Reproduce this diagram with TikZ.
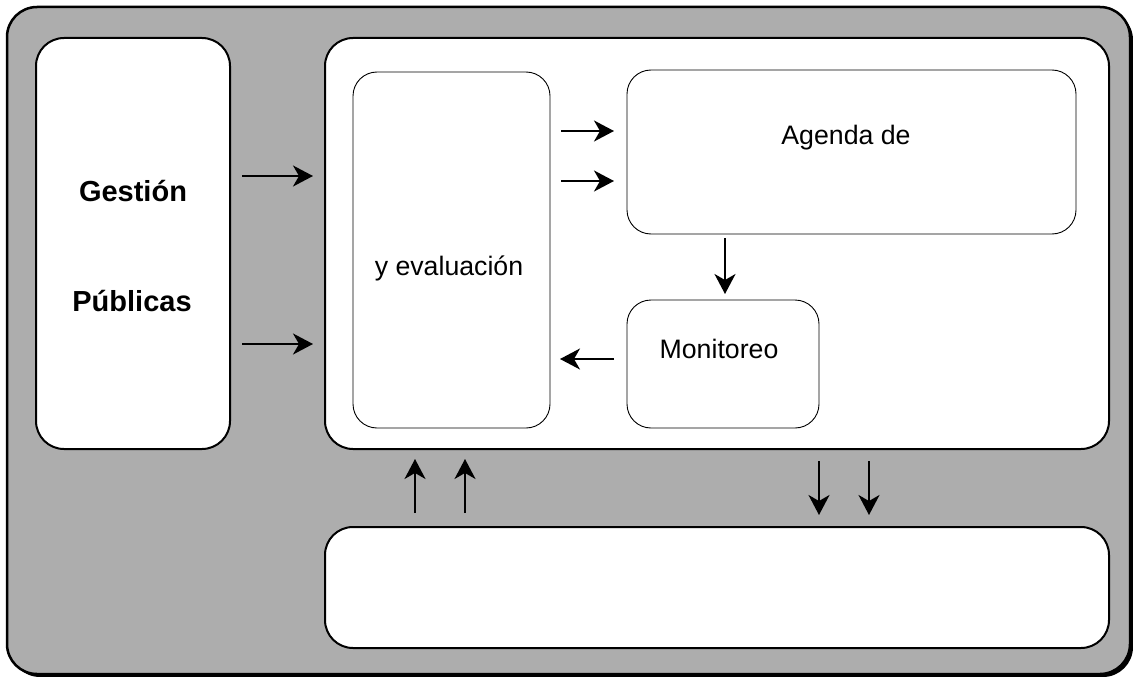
\documentclass[tikz,border=0pt]{standalone}
\usepackage{fontspec}
\setmainfont{Liberation Sans}
\usetikzlibrary{arrows.meta}
\begin{document}
\begin{tikzpicture}[x=1pt,y=-1pt,
  frame/.style={draw=black,line width=2pt,fill=white,rounded corners=28pt},
  inner/.style={draw=black,line width=0.9pt,fill=white,rounded corners=24pt},
  arr/.style={line width=2pt,-{Stealth[length=20pt,width=21pt,inset=6pt]}},
  lbl/.style={font=\fontsize{26.7}{30}\selectfont},
  blbl/.style={font=\bfseries\fontsize{29}{32}\selectfont}]
\useasboundingbox (0,0) rectangle (1133,677);
% outer panel with shadow
\fill[black,rounded corners=30pt] (10,10) rectangle (1133,677);
\draw[line width=2.5pt,fill={rgb,255:red,173;green,173;blue,173},rounded corners=30pt] (7,7) rectangle (1130,674);
% boxes
\draw[frame] (36,38) rectangle (230,449);
\node[blbl] (g) at (133,191) {Gestión};
\node[blbl] (p) at (132,301) {Públicas};
\draw[frame] (325,38) rectangle (1109,449);
\draw[inner] (353,72) rectangle (550,428);
\node[lbl] (ev) at (449,268) {y evaluación};
\draw[inner] (627,70) rectangle (1076,234);
\node[lbl] (ag) at (846,138) {Agenda de};
\draw[inner] (627,300) rectangle (819,428);
\node[lbl] (mo) at (719,349) {Monitoreo};
\draw[frame] (325,527) rectangle (1109,648);
% arrows
\coordinate (a1s) at (242,176); \coordinate (a1e) at (313,176);
\coordinate (a2s) at (242,344); \coordinate (a2e) at (313,344);
\draw[arr] (a1s) -- (a1e);
\draw[arr] (a2s) -- (a2e);
\coordinate (b1s) at (561,131); \coordinate (b1e) at (614,131);
\coordinate (b2s) at (561,181); \coordinate (b2e) at (614,181);
\draw[arr] (b1s) -- (b1e);
\draw[arr] (b2s) -- (b2e);
\coordinate (c1s) at (725,238); \coordinate (c1e) at (725,294);
\draw[arr] (c1s) -- (c1e);
\coordinate (d1s) at (614,359); \coordinate (d1e) at (560,359);
\draw[arr] (d1s) -- (d1e);
\coordinate (u1s) at (415,513); \coordinate (u1e) at (415,459);
\coordinate (u2s) at (465,513); \coordinate (u2e) at (465,459);
\draw[arr] (u1s) -- (u1e);
\draw[arr] (u2s) -- (u2e);
\coordinate (v1s) at (819,461); \coordinate (v1e) at (819,515);
\coordinate (v2s) at (869,461); \coordinate (v2e) at (869,515);
\draw[arr] (v1s) -- (v1e);
\draw[arr] (v2s) -- (v2e);
\end{tikzpicture}
\end{document}
